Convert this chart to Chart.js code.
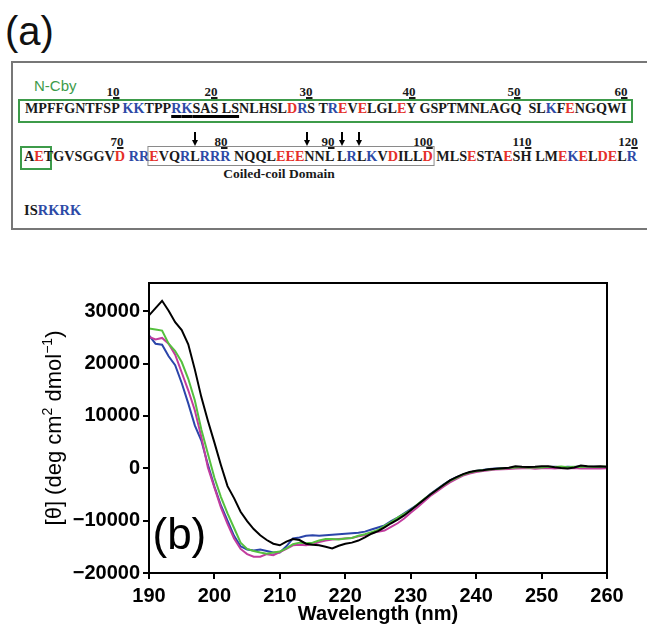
<!DOCTYPE html>
<html>
<head>
<meta charset="utf-8">
<script src="https://cdn.jsdelivr.net/npm/chart.js@4.4.1/dist/chart.umd.min.js"></script>
<style>
  html, body { margin: 0; padding: 0; background: #fff; }
  #page { position: relative; width: 647px; height: 627px; overflow: hidden; }
  .abs { position: absolute; }
  .panel { font: 40px "Liberation Sans", Arial, sans-serif; line-height: 40px; color: #111; }
  .frame { border: 2px solid #777; box-sizing: border-box; }
  .gbox { border: 2px solid #3d9b4a; box-sizing: border-box; }
  .ncby { font: 15px "Liberation Sans", Arial, sans-serif; line-height: 15px; color: #3d9b4a; }
  .row { white-space: pre; font: bold 14.5px "Liberation Serif", "Times New Roman", serif; line-height: 14.5px;
         color: #1a1a1a; transform-origin: 0 0; }
  .row .b { color: #2d4aa6; }
  .row .r { color: #e5302a; }
  .row .ul { text-decoration: underline; text-decoration-thickness: 3px; text-underline-offset: 2px; text-decoration-color: #000; }
  .row .cc { outline: 1.5px solid #8a8a8a; outline-offset: 1px; }
  .num { font: bold 13px "Liberation Serif", "Times New Roman", serif; line-height: 13px; color: #1a1a1a;
         transform: translateX(-50%); white-space: pre; }
  .num span { text-decoration: underline; text-decoration-thickness: 1.5px; text-underline-offset: 1px; }
  .arrow { width: 1.5px; height: 9px; background: #000; }
  .head { width: 0; height: 0; border-left: 3px solid transparent; border-right: 3px solid transparent; border-top: 6px solid #000; }
  .domain { font: bold 13.5px "Liberation Serif", "Times New Roman", serif; line-height: 13.5px; color: #1a1a1a;
            transform: translateX(-50%); white-space: pre; }
  #cd { position: absolute; left: 0; top: 250px; }
</style>
</head>
<body>
<div id="page">
  <div class="abs panel" style="left:5px;top:11px;">(a)</div>
  <div class="abs frame" style="left:11px;top:61px;width:638px;height:169px;"></div>
  <div class="abs ncby" style="left:34px;top:78px;">N-Cby</div>
  <div class="abs gbox" style="left:18px;top:99px;width:615px;height:24px;"></div>
  <div class="abs gbox" style="left:20px;top:146px;width:32px;height:24px;"></div>
  <div class="abs row" id="row1" style="left:24.5px;top:100.9px;"></div>
  <div class="abs row" id="row2" style="left:24px;top:148.9px;"></div>
  <div class="abs row" id="row3" style="left:24px;top:202.9px;"></div>
  <div id="marks"></div>
  <div class="abs domain" style="left:279px;top:167.2px;">Coiled-coil Domain</div>
  <canvas id="cd" width="647" height="377"></canvas>
</div>
<script>
// ---- panel (a): Cby sequence ----
const seqRows = [
  'MPFFGNTFSP KKTPPRKSAS LSNLHSLDRS TREVELGLEY GSPTMNLAGQ  SLKFENGQWI',
  'AETGVSGGVD RREVQRLRRR NQQLEEENNL LRLKVDILLD MLSESTAESH LMEKELDELR',
  'ISRKRK'
];
const basicRes = [11, 12, 16, 17, 29, 32, 53, 71, 72, 76, 78, 79, 80, 92, 94, 114, 120, 123, 124, 125, 126];
const acidicRes = [28, 33, 35, 39, 55, 62, 70, 73, 85, 86, 87, 96, 100, 104, 108, 113, 115, 117, 118];
const numLabels1 = ['10', '20', '30', '40', '50', '60'];
const numLabels2 = ['70', '80', '90', '100', '110', '120'];
const rowWidths = [601.5, 613, null];

let n = 0;
function buildRow(str) {
  let html = '';
  for (const ch of str) {
    if (ch === ' ') { html += ' '; continue; }
    n++;
    if (n === 16) html += '<span class="ul">';
    if (n === 73) html += '<span class="cc">';
    const cls = basicRes.includes(n) ? 'b' : acidicRes.includes(n) ? 'r' : '';
    html += cls ? '<span class="' + cls + '">' + ch + '</span>' : ch;
    if (n === 22) html += '</span>';
    if (n === 100) html += '</span>';
  }
  return html;
}

seqRows.forEach((s, i) => {
  const el = document.getElementById('row' + (i + 1));
  el.innerHTML = buildRow(s);
  if (rowWidths[i]) {
    const w = el.getBoundingClientRect().width;
    el.style.transform = 'scaleX(' + (rowWidths[i] / w) + ')';
  }
});

// residue numbers and arrows (pixel placement)
const marks = document.getElementById('marks');
const numX1 = [113, 211, 306, 409, 514, 621];
const numX2 = [117, 221, 328, 423, 522, 628];
function addNum(txt, x, top) {
  const d = document.createElement('div');
  d.className = 'abs num';
  d.style.left = x + 'px';
  d.style.top = top + 'px';
  d.innerHTML = txt.slice(0, -1) + '<span>' + txt.slice(-1) + '</span>';
  marks.appendChild(d);
}
numLabels1.forEach((t, i) => addNum(t, numX1[i], 84.6));
numLabels2.forEach((t, i) => addNum(t, numX2[i], 134.6));
[195, 307, 342, 359].forEach(x => {
  const s = document.createElement('div');
  s.className = 'abs arrow';
  s.style.left = (x - 0.75) + 'px';
  s.style.top = '132px';
  marks.appendChild(s);
  const h = document.createElement('div');
  h.className = 'abs head';
  h.style.left = (x - 3) + 'px';
  h.style.top = '140px';
  marks.appendChild(h);
});

// ---- panel (b): CD spectra ----
const wavelengths = [190, 191, 192, 193, 194, 195, 196, 197, 198, 199,
  200, 201, 202, 203, 204, 205, 206, 207, 208, 209,
  210, 211, 212, 213, 214, 215, 216, 217, 218, 219,
  220, 221, 222, 223, 224, 225, 226, 227, 228, 229,
  230, 231, 232, 233, 234, 235, 236, 237, 238, 239,
  240, 241, 242, 243, 244, 245, 246, 247, 248, 249,
  250, 251, 252, 253, 254, 255, 256, 257, 258, 259, 260];

const blackVals = [29200, 30600, 32000, 30100, 27900, 26400, 23700, 18900, 13600, 9100,
  4900, 600, -3400, -5700, -8300, -10100, -11600, -12800, -13700, -14400,
  -14700, -14000, -13500, -13700, -14400, -14600, -14700, -15000, -15300, -14800,
  -14400, -14200, -13800, -13200, -12500, -12000, -11300, -10500, -9800, -9000,
  -8000, -7000, -6000, -5000, -4100, -3200, -2300, -1700, -1100, -700,
  -450, -350, -200, -80, 0, 100, 380, 300, 250, 300,
  380, 380, 200, 50, -50, 150, 550, 400, 350, 380, 300];

const greenVals = [26700, 26500, 26300, 23800, 22400, 20300, 17100, 13000, 7400, 2800,
  -1800, -5500, -8600, -11400, -14200, -15400, -15800, -16100, -16300, -16100,
  -15900, -15300, -14500, -14200, -14300, -14200, -13800, -13500, -13500, -13600,
  -13400, -13300, -12900, -12600, -12200, -11800, -11000, -10300, -9400, -8700,
  -8000, -6900, -5900, -5000, -4100, -3200, -2400, -1800, -1200, -800,
  -500, -350, -250, -150, -50, 50, 150, 250, 100, 200,
  150, 300, 250, 350, 200, 300, 250, 350, 250, 300, 350];

const magentaVals = [25100, 24600, 24900, 23800, 21700, 18300, 14900, 11100, 6000, 150,
  -3700, -7500, -10600, -13400, -15400, -16400, -16900, -16900, -16400, -16600,
  -16000, -15400, -14700, -14600, -14700, -14500, -14100, -13800, -13600, -13500,
  -13400, -13300, -13000, -12800, -12400, -12100, -11900, -11200, -10500, -9600,
  -8500, -7500, -6400, -5300, -4400, -3500, -2700, -2000, -1400, -1000,
  -700, -500, -350, -250, -200, -150, -50, 0, 50, -100,
  0, 50, -50, 50, 0, 50, -50, 0, -50, -50, 0];

const blueVals = [25400, 23800, 23600, 21400, 19700, 16300, 12400, 8200, 5300, 700,
  -3500, -7100, -10000, -12900, -14900, -15500, -15700, -15500, -15800, -16100,
  -16100, -14900, -13400, -13200, -12900, -12800, -12900, -12800, -12700, -12600,
  -12500, -12400, -12300, -12100, -11700, -11300, -10900, -10100, -9400, -8600,
  -7800, -7000, -6000, -4900, -4000, -3100, -2300, -1700, -1200, -800,
  -500, -300, -150, -50, 0, 50, 100, 200, 250, 150,
  200, 250, 300, 200, 300, 250, 350, 250, 300, 250, 250];

const xTicks = [190, 200, 210, 220, 230, 240, 250, 260];
const yTicks = [-20000, -10000, 0, 10000, 20000, 30000];

function pts(vals) {
  return wavelengths.map((w, i) => ({ x: w, y: vals[i] }));
}

const tickFont = { family: '"Liberation Sans", Arial, sans-serif', size: 20, weight: 'bold' };

// frame, y-axis title with superscripts, and (b) label
const decor = {
  id: 'decor',
  afterDatasetsDraw(chart) {
    const { ctx, chartArea: a } = chart;
    ctx.save();
    ctx.strokeStyle = '#000';
    ctx.lineWidth = 2;
    ctx.strokeRect(a.left, a.top, a.right - a.left, a.bottom - a.top);

    ctx.fillStyle = '#000';
    ctx.font = '44px "Liberation Sans", Arial, sans-serif';
    ctx.textBaseline = 'alphabetic';
    ctx.textAlign = 'left';
    ctx.fillText('(b)', a.left + 3.5, 298.8);

    const parts = [
      ['[\u03b8] (deg cm', false], ['2', true], [' dmol', false], ['\u22121', true], [')', false]
    ];
    const mainF = '22px "Liberation Sans", Arial, sans-serif';
    const supF = '14px "Liberation Sans", Arial, sans-serif';
    let total = 0;
    parts.forEach(p => { ctx.font = p[1] ? supF : mainF; total += ctx.measureText(p[0]).width; });
    ctx.translate(61, (a.top + a.bottom) / 2);
    ctx.rotate(-Math.PI / 2);
    let x = -total / 2;
    parts.forEach(p => {
      ctx.font = p[1] ? supF : mainF;
      ctx.fillText(p[0], x, p[1] ? -9 : 0);
      x += ctx.measureText(p[0]).width;
    });
    ctx.restore();
  }
};

new Chart(document.getElementById('cd'), {
  type: 'line',
  data: {
    datasets: [
      { label: 'black', data: pts(blackVals), borderColor: '#000000' },
      { label: 'green', data: pts(greenVals), borderColor: '#55c03e' },
      { label: 'magenta', data: pts(magentaVals), borderColor: '#c23c9e' },
      { label: 'blue', data: pts(blueVals), borderColor: '#2b45aa' }
    ]
  },
  options: {
    responsive: false,
    animation: false,
    devicePixelRatio: 1,
    layout: { padding: { top: 33, right: 40, left: 0, bottom: 0 } },
    elements: {
      line: { borderWidth: 2, tension: 0, fill: false },
      point: { radius: 0 }
    },
    plugins: { legend: { display: false }, tooltip: { enabled: false } },
    scales: {
      x: {
        type: 'linear', min: 190, max: 260,
        afterBuildTicks: s => { s.ticks = xTicks.map(v => ({ value: v })); },
        afterFit: s => { s.height = 54; },
        grid: { drawOnChartArea: false, drawTicks: true, tickLength: 6, color: '#000', lineWidth: 2 },
        border: { display: true, color: '#000', width: 2 },
        ticks: { color: '#000', font: tickFont, padding: 5, maxRotation: 0 },
        title: { display: true, text: 'Wavelength (nm)', color: '#000', font: tickFont, padding: { top: 0, bottom: 1 } }
      },
      y: {
        type: 'linear', min: -20000, max: 35400,
        afterBuildTicks: s => { s.ticks = yTicks.map(v => ({ value: v })); },
        afterFit: s => { s.width = 149; },
        grid: { drawOnChartArea: false, drawTicks: true, tickLength: 6, color: '#000', lineWidth: 2 },
        border: { display: true, color: '#000', width: 2 },
        ticks: { color: '#000', font: tickFont, padding: 3,
                 callback: v => v < 0 ? '\u2212' + Math.abs(v) : String(v) }
      }
    }
  },
  plugins: [decor]
});
</script>
</body>
</html>
